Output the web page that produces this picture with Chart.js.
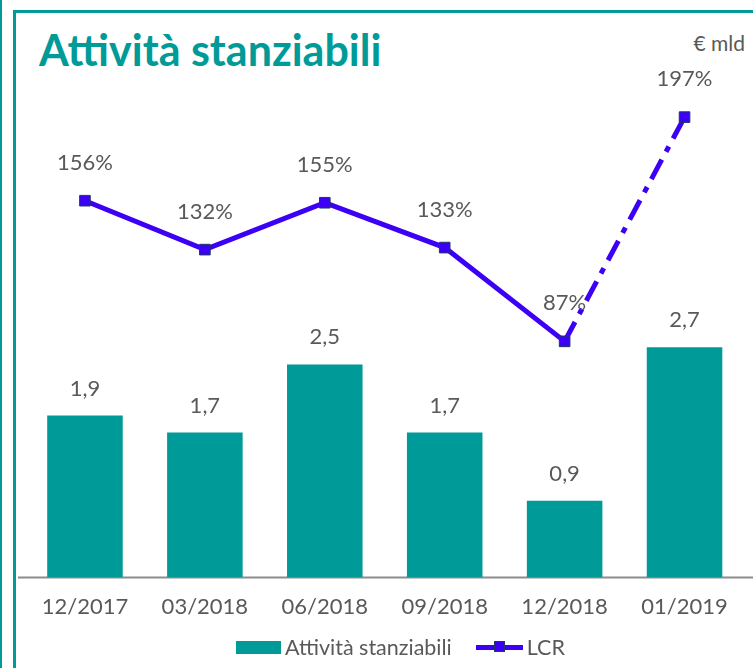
<!DOCTYPE html>
<html>
<head>
<meta charset="utf-8">
<script src="https://cdn.jsdelivr.net/npm/chart.js@4"></script>
<style>
  body { margin: 0; background: #fff; font-family: Lato, "Open Sans", sans-serif; }
  #wrap { position: relative; width: 753px; height: 668px; overflow: hidden; }
  #outer { position: absolute; left: 0; top: 0; width: 2px; height: 668px; background: #009b98; }
  #frame { position: absolute; left: 13px; top: 10px; width: 760px; height: 680px;
           border-left: 3px solid #009b98; border-top: 3px solid #009b98; }
  #title { position: absolute; left: 39px; top: 24px; font: 700 43px Lato, sans-serif; color: #009b98; }
  #unit { position: absolute; right: 8px; top: 30px; font: 21px Lato, sans-serif; color: #595959; }
  #legend { position: absolute; left: 236px; top: 634px; font: 21.5px Lato, sans-serif; color: #595959;
            display: flex; align-items: center; white-space: nowrap; }
  .box { display: inline-block; width: 45px; height: 13px; background: #009b98; margin-right: 4px; }
  .ln { display: inline-block; position: relative; width: 47px; height: 5px; background: #3c00f5;
        margin-left: 24px; margin-right: 4px; }
  .ln i { position: absolute; left: 18px; top: -4px; width: 11px; height: 11px; background: #3c00f5;
          border: 1px solid #1f3864; box-sizing: border-box; }
  canvas { position: absolute; left: 0; top: 0; }
</style>
</head>
<body>
<div id="wrap">
  <div id="outer"></div>
  <div id="frame"></div>
  <div id="title">Attività stanziabili</div>
  <div id="unit">€ mld</div>
  <canvas id="myChart" width="753" height="668"></canvas>
  <div id="legend"></div>
</div>
<script>
const categories = ['12/2017', '03/2018', '06/2018', '09/2018', '12/2018', '01/2019'];
const barLabel = 'Attività stanziabili';
const barValues = [1.9, 1.7, 2.5, 1.7, 0.9, 2.7];
const lineLabel = 'LCR';
const lcrValues = [156, 132, 155, 133, 87, 197];

const teal = '#009b98';
const blue = '#3c00f5';
const grey = '#595959';

const canvas = document.getElementById('myChart');
const ctx = canvas.getContext('2d');

// value labels above bars and line points
const valueLabels = {
    id: 'valueLabels',
    afterDatasetsDraw(chart) {
        const c = chart.ctx;
        c.save();
        c.font = '22px Lato, sans-serif';
        c.fillStyle = grey;
        c.textAlign = 'center';
        c.textBaseline = 'middle';
        chart.getDatasetMeta(0).data.forEach((bar, i) => {
            c.fillText(barValues[i].toFixed(1).replace('.', ','), bar.x, bar.y - 27);
        });
        chart.getDatasetMeta(1).data.forEach((pt, i) => {
            c.fillText(lcrValues[i] + '%', pt.x, pt.y - 38);
        });
        c.restore();
    }
};

// axis base line, a bit wider than the plot area
const baseLine = {
    id: 'baseLine',
    beforeDatasetsDraw(chart) {
        const c = chart.ctx;
        const y = chart.scales.y.getPixelForValue(0);
        c.save();
        c.strokeStyle = '#8c8c8c';
        c.lineWidth = 2;
        c.beginPath();
        c.moveTo(chart.chartArea.left - 7, y);
        c.lineTo(chart.width, y);
        c.stroke();
        c.restore();
    }
};

const myChart = new Chart(ctx, {
    data: {
        labels: categories,
        datasets: [{
            type: 'bar',
            label: barLabel,
            data: barValues,
            backgroundColor: teal,
            categoryPercentage: 1,
            barPercentage: 0.63,
            yAxisID: 'y',
            order: 2
        }, {
            type: 'line',
            label: lineLabel,
            data: lcrValues,
            borderColor: blue,
            borderWidth: 5,
            pointStyle: 'rect',
            pointRadius: 7.5,
            pointBackgroundColor: blue,
            pointBorderColor: '#1f3864',
            pointBorderWidth: 1,
            tension: 0,
            segment: {
                borderDash: c => c.p1DataIndex === 5 ? [22, 9, 6, 9] : undefined
            },
            yAxisID: 'y1',
            order: 1
        }]
    },
    options: {
        responsive: false,
        animation: false,
        layout: { padding: { left: 25, right: 3, top: 100, bottom: 32 } },
        plugins: { legend: { display: false }, tooltip: { enabled: false } },
        scales: {
            x: {
                grid: { display: false, drawTicks: false },
                border: { display: false },
                ticks: { color: grey, font: { family: 'Lato', size: 22 }, padding: 16 }
            },
            y: { display: false, min: 0, max: 5.6 },
            y1: { display: false, min: -28.9, max: 205.4 }
        }
    },
    plugins: [valueLabels, baseLine]
});

// legend
const legend = document.getElementById('legend');
legend.innerHTML = '<span class="box"></span>' + barLabel +
    '<span class="ln"><i></i></span>' + lineLabel;
</script>
</body>
</html>
